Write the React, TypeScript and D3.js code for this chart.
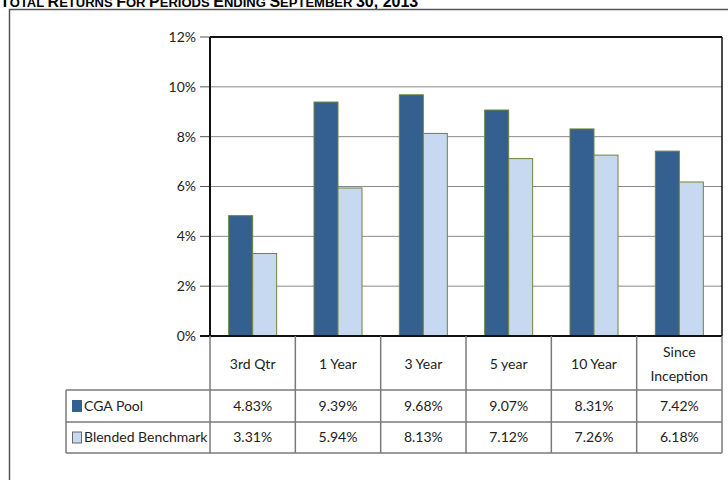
import React from "react";
import * as d3 from "d3";

const categories = ["3rd Qtr", "1 Year", "3 Year", "5 year", "10 Year", "Since Inception"];
const categoryLines = [["3rd Qtr"], ["1 Year"], ["3 Year"], ["5 year"], ["10 Year"], ["Since", "Inception"]];
const seriesNames = ["CGA Pool", "Blended Benchmark"];
const cgaPool = [4.83, 9.39, 9.68, 9.07, 8.31, 7.42];
const blendedBenchmark = [3.31, 5.94, 8.13, 7.12, 7.26, 6.18];
const cgaLabels = ["4.83%", "9.39%", "9.68%", "9.07%", "8.31%", "7.42%"];
const benchLabels = ["3.31%", "5.94%", "8.13%", "7.12%", "7.26%", "6.18%"];
const yTicks = [0, 2, 4, 6, 8, 10, 12];
const colors = ["#34608f", "#c6d9f0"];

export default function App() {
  const W = 728, H = 480;
  const plotL = 210, plotR = 722, plotT = 37, plotB = 336;
  const row0 = 336, row1 = 390, row2 = 422, row3 = 453;
  const tableL = 66;
  const font = "Lato, 'Liberation Sans', Arial, sans-serif";
  const titleFont = "'Liberation Sans', Arial, sans-serif";
  const fs = 14;

  const y = d3.scaleLinear().domain([0, 12]).range([plotB, plotT]);
  const x0 = d3.scaleBand<string>().domain(categories).range([plotL, plotR]).paddingInner(0).paddingOuter(0);
  const groupW = 48;
  const x1 = d3.scaleBand<string>().domain(seriesNames).range([0, groupW]).padding(0);
  const seriesValues = [cgaPool, blendedBenchmark];
  const rowLabels = [cgaLabels, benchLabels];
  const bw = x0.bandwidth();

  return (
    <svg width={W} height={H} style={{ position: "absolute", left: 0, top: 0, background: "#fff" }}>
      <rect x={0} y={0} width={W} height={H} fill="#fff" />
      {/* title (clipped at top, as in the source) */}
      <text x={0} y={7} fontFamily={titleFont} fontWeight="bold" fontSize={13} fill="#000">
        <tspan fontSize={16}>T</tspan>
        <tspan>OTAL </tspan>
        <tspan fontSize={16}>R</tspan>
        <tspan>ETURNS </tspan>
        <tspan fontSize={16}>F</tspan>
        <tspan>OR </tspan>
        <tspan fontSize={16}>P</tspan>
        <tspan>ERIODS </tspan>
        <tspan fontSize={16}>E</tspan>
        <tspan>NDING </tspan>
        <tspan fontSize={16}>S</tspan>
        <tspan>EPTEMBER </tspan>
        <tspan fontSize={16}>30, 2013</tspan>
      </text>
      {/* outer frame */}
      <rect x={9.5} y={9.5} width={740} height={500} fill="none" stroke="#555" strokeWidth={1.5} />

      {/* gridlines */}
      {yTicks.filter(t => t > 0 && t < 12).map(t => (
        <line key={t} x1={plotL} x2={plotR} y1={y(t)} y2={y(t)} stroke="#8a8a8a" strokeWidth={1} />
      ))}
      {/* y ticks and labels */}
      {yTicks.map(t => (
        <g key={"t" + t}>
          <line x1={200} x2={plotL} y1={y(t)} y2={y(t)} stroke="#555" strokeWidth={1} />
          <text x={196} y={y(t)} dy="0.35em" textAnchor="end" fontFamily={font} fontSize={fs} fill="#222">{t}%</text>
        </g>
      ))}

      {/* bars */}
      {categories.map((c, i) => (
        <g key={c} transform={`translate(${(x0(c) as number) + (bw - groupW) / 2},0)`}>
          {seriesNames.map((s, j) => (
            <rect key={s} x={x1(s)} y={y(seriesValues[j][i])} width={x1.bandwidth()}
              height={y(0) - y(seriesValues[j][i])} fill={colors[j]} stroke="#71823a" strokeWidth={1} />
          ))}
        </g>
      ))}

      {/* plot border */}
      <line x1={plotL} x2={plotR} y1={plotT} y2={plotT} stroke="#111" strokeWidth={2} />
      <line x1={plotR} x2={plotR} y1={plotT} y2={plotB} stroke="#111" strokeWidth={1.5} />
      <line x1={plotL} x2={plotL} y1={plotT} y2={plotB} stroke="#111" strokeWidth={2} />
      <line x1={200} x2={plotR} y1={plotB} y2={plotB} stroke="#111" strokeWidth={2} />

      {/* table lines */}
      {[row1, row2, row3].map(r => (
        <line key={r} x1={tableL} x2={plotR} y1={r} y2={r} stroke="#7a7a7a" strokeWidth={1.5} />
      ))}
      <line x1={tableL} x2={tableL} y1={row1} y2={row3} stroke="#7a7a7a" strokeWidth={1.5} />
      <line x1={plotL} x2={plotL} y1={row0} y2={row3} stroke="#7a7a7a" strokeWidth={1.5} />
      {categories.map(c => (
        <line key={"v" + c} x1={(x0(c) as number) + bw} x2={(x0(c) as number) + bw} y1={row0} y2={row3} stroke="#7a7a7a" strokeWidth={1.5} />
      ))}

      {/* category header */}
      {categories.map((c, i) => {
        const lines = categoryLines[i];
        const cx = (x0(c) as number) + bw / 2;
        const cy = (row0 + row1) / 2 + 1;
        return (
          <text key={"h" + c} x={cx} textAnchor="middle" fontFamily={font} fontSize={fs} fill="#222">
            {lines.map((l, k) => (
              <tspan key={k} x={cx} y={cy + (k - (lines.length - 1) / 2) * 24} dy="0.35em">{l}</tspan>
            ))}
          </text>
        );
      })}

      {/* data rows */}
      {seriesNames.map((s, j) => {
        const top = j === 0 ? row1 : row2;
        const bot = j === 0 ? row2 : row3;
        const cy = (top + bot) / 2;
        return (
          <g key={"r" + s}>
            <rect x={72.5} y={cy - 5.5} width={9} height={11} fill={colors[j]} stroke={j === 0 ? "#34608f" : "#666"} strokeWidth={1} />
            <text x={84} y={cy} dy="0.35em" fontFamily={font} fontSize={fs} fill="#222">{s}</text>
            {categories.map((c, i) => (
              <text key={c} x={(x0(c) as number) + bw / 2} y={cy} dy="0.35em" textAnchor="middle"
                fontFamily={font} fontSize={fs} fill="#222">{rowLabels[j][i]}</text>
            ))}
          </g>
        );
      })}
    </svg>
  );
}
